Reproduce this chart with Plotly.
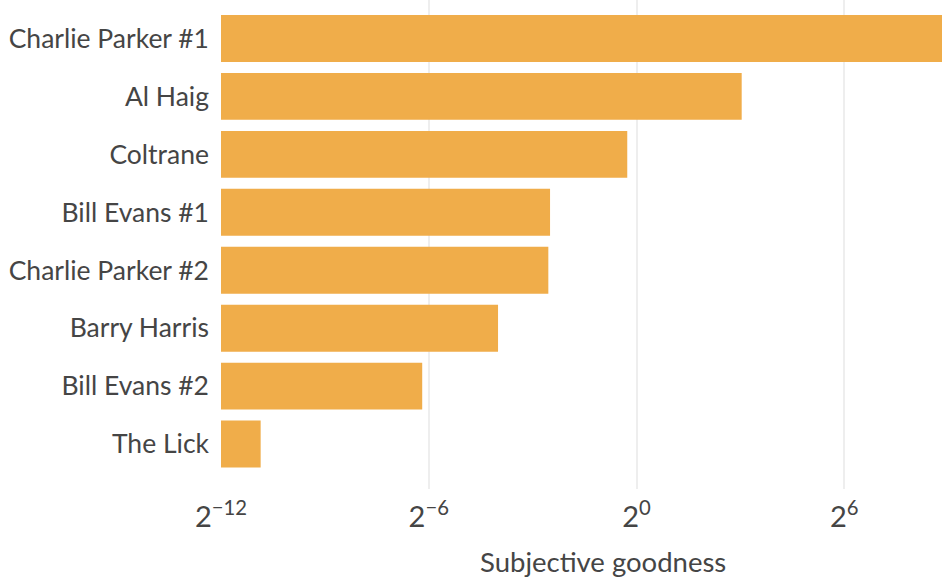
import math
import plotly.graph_objects as go

# Solos ranked by subjective goodness (top to bottom)
solos = [
    "Charlie Parker #1",
    "Al Haig",
    "Coltrane",
    "Bill Evans #1",
    "Charlie Parker #2",
    "Barry Harris",
    "Bill Evans #2",
    "The Lick",
]
goodness = [480.0, 8.2, 0.83, 0.177, 0.171, 0.0625, 0.0137, 0.00054]

# Power-of-two tick marks
tick_powers = [-12, -6, 0, 6]
tick_values = [2.0 ** p for p in tick_powers]
tick_labels = ["2<sup>%s</sup>" % (("\u2212%d" % -p) if p < 0 else str(p)) for p in tick_powers]

FONT = "Lato"
TEXT = "#454545"
BAR = "#F0AD4A"

fig = go.Figure(
    go.Bar(
        x=goodness,
        y=solos,
        orientation="h",
        marker=dict(color=BAR, line=dict(width=0)),
        hoverinfo="x+y",
    )
)

fig.update_layout(
    width=942,
    height=581,
    margin=dict(l=221, r=0, t=0, b=92),
    paper_bgcolor="white",
    plot_bgcolor="white",
    bargap=0.19,
    showlegend=False,
    font=dict(family=FONT, color=TEXT),
    annotations=[
        dict(
            text="Subjective goodness",
            xref="paper",
            yref="paper",
            x=0.53,
            y=-0.149,
            xanchor="center",
            yanchor="middle",
            showarrow=False,
            font=dict(family=FONT, size=27.5, color=TEXT),
        )
    ],
)

fig.update_xaxes(
    type="log",
    range=[math.log10(2.0 ** -12), math.log10(2.0 ** 8.82)],
    tickvals=tick_values,
    ticktext=tick_labels,
    tickfont=dict(family=FONT, size=29, color=TEXT),
    showgrid=True,
    gridcolor="#EEEEEE",
    gridwidth=1.5,
    zeroline=False,
    showline=False,
    ticks="",
    ticklabelstandoff=8,
)

fig.update_yaxes(
    type="category",
    categoryorder="array",
    categoryarray=solos,
    range=[7.776, -0.664],
    tickfont=dict(family=FONT, size=26.5, color=TEXT),
    showgrid=False,
    zeroline=False,
    showline=False,
    ticks="",
    ticklabelstandoff=11,
)

fig.write_html("out.html")
